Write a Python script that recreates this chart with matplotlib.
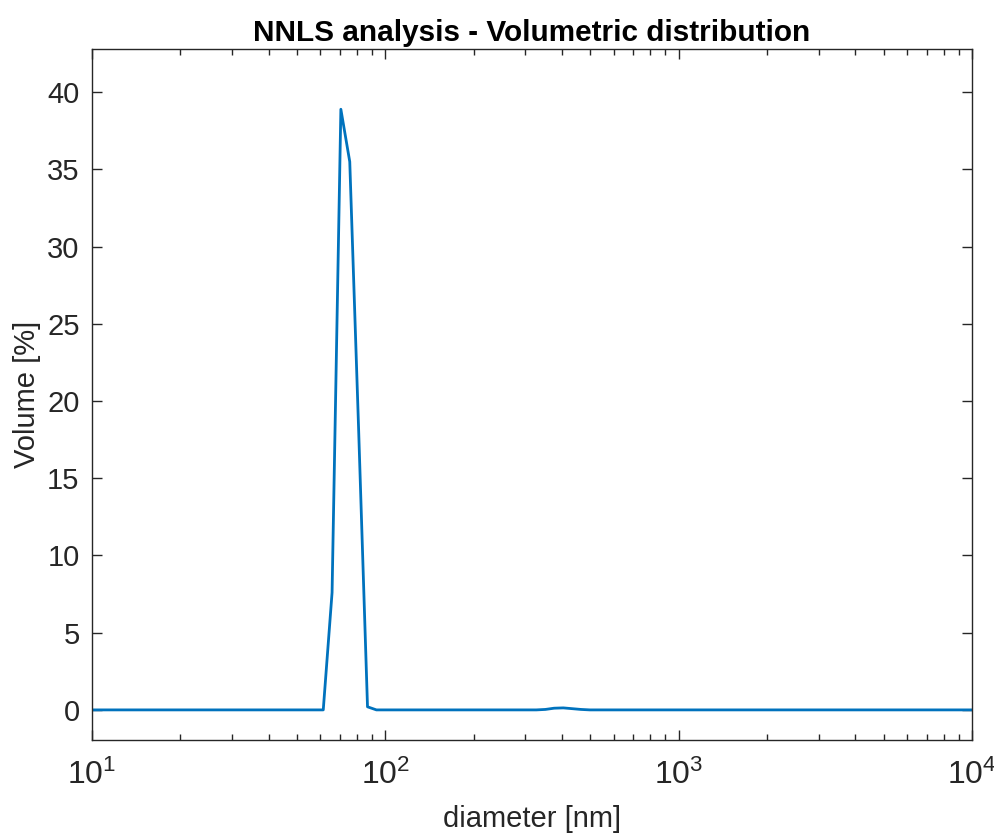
import numpy as np
import matplotlib
matplotlib.use("Agg")
import matplotlib.pyplot as plt

# diameter [nm] and volume [%]
diameter = [10, 61.4, 65.8, 70.5, 75.6, 81.1, 86.9, 93.2,
            327, 351, 376, 404, 433, 464, 498, 10000]
volume = [0, 0, 7.6, 38.9, 35.5, 18.0, 0.2, 0,
          0, 0.03, 0.11, 0.13, 0.08, 0.03, 0, 0]

yticks = [0, 5, 10, 15, 20, 25, 30, 35, 40]

plt.rcParams['font.family'] = ['Liberation Sans', 'DejaVu Sans']
plt.rcParams['mathtext.fontset'] = 'custom'
plt.rcParams['mathtext.rm'] = 'Liberation Sans'
plt.rcParams['mathtext.it'] = 'Liberation Sans'

axcol = '#262626'
fig = plt.figure(figsize=(9.95, 8.34), dpi=100)
ax = fig.add_axes([0.0925, 0.1127, 0.8845, 0.8285])

ax.plot(diameter, volume, color='#0072BD', lw=2)
ax.set_xscale('log')
ax.set_xlim(10, 10000)
ax.set_ylim(-1.95, 42.8)
ax.set_yticks(yticks)

ax.tick_params(which='both', direction='in', top=True, right=True,
               colors=axcol, labelsize=21, width=1)
ax.tick_params(which='major', length=7)
ax.tick_params(which='minor', length=4)
ax.tick_params(axis='y', which='major', pad=9)
ax.tick_params(axis='x', which='major', pad=14, labelsize=23)
for s in ax.spines.values():
    s.set_color(axcol)
    s.set_linewidth(1)

ax.set_xlabel('diameter [nm]', fontsize=21, color=axcol, labelpad=10)
ax.set_ylabel('Volume [%]', fontsize=21, color=axcol, labelpad=4)
ax.set_title('NNLS analysis - Volumetric distribution', fontsize=21.4,
             fontweight='bold', color='black', pad=6)

fig.savefig('out.png', dpi=100)
